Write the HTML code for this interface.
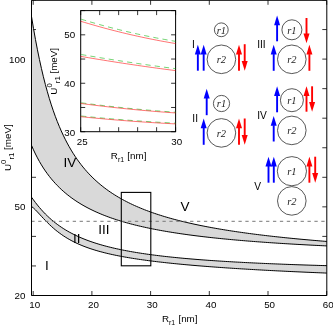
<!DOCTYPE html><html><head><meta charset="utf-8"><style>html,body{margin:0;padding:0;background:#fff}svg{display:block;will-change:transform}text{font-family:"Liberation Sans",sans-serif;fill:#000}.s{font-family:"Liberation Serif",serif;font-style:italic;font-size:10.5px;fill:#222}</style></head><body>
<svg width="333" height="325" viewBox="0 0 333 325">
<rect width="333" height="325" fill="#fff"/>
<path d="M33.20,295.50 v-4.5 M33.20,0.30 v4.5 M91.90,295.50 v-4.5 M91.90,0.30 v4.5 M150.60,295.50 v-4.5 M150.60,0.30 v4.5 M209.30,295.50 v-4.5 M209.30,0.30 v4.5 M268.00,295.50 v-4.5 M268.00,0.30 v4.5 M326.70,295.50 v-4.5 M326.70,0.30 v4.5 M31.50,295.50 h4.5 M326.80,295.50 h-4.5 M31.50,265.95 h4.5 M326.80,265.95 h-4.5 M31.50,236.40 h4.5 M326.80,236.40 h-4.5 M31.50,206.85 h4.5 M326.80,206.85 h-4.5 M31.50,177.30 h4.5 M326.80,177.30 h-4.5 M31.50,147.75 h4.5 M326.80,147.75 h-4.5 M31.50,118.20 h4.5 M326.80,118.20 h-4.5 M31.50,88.65 h4.5 M326.80,88.65 h-4.5 M31.50,59.10 h4.5 M326.80,59.10 h-4.5 M31.50,29.55 h4.5 M326.80,29.55 h-4.5 M31.50,0.00 h4.5 M326.80,0.00 h-4.5" stroke="#000" stroke-width="0.8" fill="none"/>
<path d="M31.50,16.47 L33.48,28.36 L35.46,39.47 L37.45,49.81 L39.43,59.44 L41.41,68.41 L43.39,76.75 L45.37,84.53 L47.36,91.78 L49.34,98.54 L51.32,104.86 L53.30,110.76 L55.28,116.29 L57.26,121.47 L59.25,126.33 L61.23,130.90 L63.21,135.20 L65.19,139.24 L67.17,143.06 L69.16,146.66 L71.14,150.07 L73.12,153.29 L75.10,156.34 L77.08,159.24 L79.07,161.99 L81.05,164.60 L83.03,167.09 L85.01,169.46 L86.99,171.72 L88.97,173.87 L90.96,175.93 L92.94,177.90 L94.92,179.79 L96.90,181.59 L98.88,183.32 L100.87,184.98 L102.85,186.58 L104.83,188.11 L106.81,189.58 L108.79,191.00 L110.78,192.36 L112.76,193.68 L114.74,194.95 L116.72,196.17 L118.70,197.35 L120.68,198.49 L122.67,199.60 L124.65,200.66 L126.63,201.70 L128.61,202.70 L130.59,203.67 L132.58,204.61 L134.56,205.52 L136.54,206.40 L138.52,207.26 L140.50,208.09 L142.49,208.90 L144.47,209.69 L146.45,210.46 L148.43,211.20 L150.41,211.93 L152.39,212.63 L154.38,213.32 L156.36,213.99 L158.34,214.64 L160.32,215.28 L162.30,215.90 L164.29,216.50 L166.27,217.10 L168.25,217.67 L170.23,218.24 L172.21,218.79 L174.20,219.33 L176.18,219.85 L178.16,220.37 L180.14,220.87 L182.12,221.36 L184.10,221.84 L186.09,222.32 L188.07,222.78 L190.05,223.23 L192.03,223.67 L194.01,224.11 L196.00,224.53 L197.98,224.95 L199.96,225.36 L201.94,225.76 L203.92,226.15 L205.91,226.54 L207.89,226.92 L209.87,227.29 L211.85,227.66 L213.83,228.01 L215.81,228.37 L217.80,228.71 L219.78,229.05 L221.76,229.39 L223.74,229.71 L225.72,230.04 L227.71,230.35 L229.69,230.66 L231.67,230.97 L233.65,231.27 L235.63,231.57 L237.62,231.86 L239.60,232.15 L241.58,232.43 L243.56,232.71 L245.54,232.98 L247.52,233.25 L249.51,233.52 L251.49,233.78 L253.47,234.04 L255.45,234.29 L257.43,234.54 L259.42,234.79 L261.40,235.03 L263.38,235.27 L265.36,235.50 L267.34,235.74 L269.33,235.96 L271.31,236.19 L273.29,236.41 L275.27,236.63 L277.25,236.85 L279.23,237.06 L281.22,237.27 L283.20,237.48 L285.18,237.69 L287.16,237.89 L289.14,238.09 L291.13,238.29 L293.11,238.48 L295.09,238.67 L297.07,238.86 L299.05,239.05 L301.04,239.24 L303.02,239.42 L305.00,239.60 L306.98,239.78 L308.96,239.95 L310.94,240.13 L312.93,240.30 L314.91,240.47 L316.89,240.64 L318.87,240.80 L320.85,240.97 L322.84,241.13 L324.82,241.29 L326.80,241.45 L326.80,245.92 L324.82,245.82 L322.84,245.73 L320.85,245.63 L318.87,245.53 L316.89,245.43 L314.91,245.33 L312.93,245.23 L310.94,245.13 L308.96,245.02 L306.98,244.92 L305.00,244.81 L303.02,244.70 L301.04,244.59 L299.05,244.48 L297.07,244.37 L295.09,244.25 L293.11,244.14 L291.13,244.02 L289.14,243.90 L287.16,243.78 L285.18,243.66 L283.20,243.54 L281.22,243.41 L279.23,243.29 L277.25,243.16 L275.27,243.03 L273.29,242.90 L271.31,242.76 L269.33,242.63 L267.34,242.49 L265.36,242.35 L263.38,242.21 L261.40,242.06 L259.42,241.92 L257.43,241.77 L255.45,241.62 L253.47,241.47 L251.49,241.31 L249.51,241.16 L247.52,241.00 L245.54,240.83 L243.56,240.67 L241.58,240.50 L239.60,240.33 L237.62,240.16 L235.63,239.99 L233.65,239.81 L231.67,239.63 L229.69,239.44 L227.71,239.26 L225.72,239.07 L223.74,238.88 L221.76,238.68 L219.78,238.48 L217.80,238.28 L215.81,238.07 L213.83,237.86 L211.85,237.65 L209.87,237.43 L207.89,237.21 L205.91,236.98 L203.92,236.75 L201.94,236.52 L199.96,236.28 L197.98,236.04 L196.00,235.79 L194.01,235.54 L192.03,235.28 L190.05,235.02 L188.07,234.75 L186.09,234.48 L184.10,234.20 L182.12,233.92 L180.14,233.63 L178.16,233.34 L176.18,233.04 L174.20,232.73 L172.21,232.41 L170.23,232.09 L168.25,231.77 L166.27,231.43 L164.29,231.09 L162.30,230.74 L160.32,230.38 L158.34,230.02 L156.36,229.64 L154.38,229.26 L152.39,228.87 L150.41,228.47 L148.43,228.05 L146.45,227.63 L144.47,227.20 L142.49,226.76 L140.50,226.30 L138.52,225.84 L136.54,225.36 L134.56,224.87 L132.58,224.37 L130.59,223.85 L128.61,223.32 L126.63,222.77 L124.65,222.21 L122.67,221.64 L120.68,221.04 L118.70,220.43 L116.72,219.80 L114.74,219.15 L112.76,218.49 L110.78,217.80 L108.79,217.09 L106.81,216.35 L104.83,215.60 L102.85,214.82 L100.87,214.01 L98.88,213.17 L96.90,212.31 L94.92,211.41 L92.94,210.48 L90.96,209.52 L88.97,208.53 L86.99,207.49 L85.01,206.42 L83.03,205.30 L81.05,204.14 L79.07,202.93 L77.08,201.68 L75.10,200.37 L73.12,199.00 L71.14,197.57 L69.16,196.08 L67.17,194.51 L65.19,192.88 L63.21,191.16 L61.23,189.37 L59.25,187.48 L57.26,185.49 L55.28,183.39 L53.30,181.18 L51.32,178.85 L49.34,176.38 L47.36,173.76 L45.37,170.98 L43.39,168.02 L41.41,164.87 L39.43,161.50 L37.45,157.89 L35.46,154.02 L33.48,149.85 L31.50,145.34 Z" fill="#d9d9d9"/>
<path d="M31.50,197.15 L33.48,199.91 L35.46,202.56 L37.45,205.08 L39.43,207.48 L41.41,209.77 L43.39,211.94 L45.37,214.00 L47.36,215.96 L49.34,217.81 L51.32,219.58 L53.30,221.25 L55.28,222.84 L57.26,224.35 L59.25,225.78 L61.23,227.15 L63.21,228.45 L65.19,229.69 L67.17,230.87 L69.16,232.00 L71.14,233.07 L73.12,234.10 L75.10,235.09 L77.08,236.03 L79.07,236.93 L81.05,237.79 L83.03,238.62 L85.01,239.42 L86.99,240.18 L88.97,240.91 L90.96,241.62 L92.94,242.29 L94.92,242.95 L96.90,243.57 L98.88,244.18 L100.87,244.76 L102.85,245.33 L104.83,245.87 L106.81,246.40 L108.79,246.90 L110.78,247.39 L112.76,247.87 L114.74,248.33 L116.72,248.77 L118.70,249.20 L120.68,249.62 L122.67,250.02 L124.65,250.41 L126.63,250.79 L128.61,251.16 L130.59,251.52 L132.58,251.87 L134.56,252.21 L136.54,252.54 L138.52,252.85 L140.50,253.17 L142.49,253.47 L144.47,253.76 L146.45,254.05 L148.43,254.33 L150.41,254.60 L152.39,254.87 L154.38,255.13 L156.36,255.38 L158.34,255.62 L160.32,255.86 L162.30,256.10 L164.29,256.33 L166.27,256.55 L168.25,256.77 L170.23,256.98 L172.21,257.19 L174.20,257.39 L176.18,257.59 L178.16,257.79 L180.14,257.98 L182.12,258.16 L184.10,258.35 L186.09,258.53 L188.07,258.70 L190.05,258.87 L192.03,259.04 L194.01,259.20 L196.00,259.36 L197.98,259.52 L199.96,259.68 L201.94,259.83 L203.92,259.98 L205.91,260.12 L207.89,260.27 L209.87,260.41 L211.85,260.54 L213.83,260.68 L215.81,260.81 L217.80,260.94 L219.78,261.07 L221.76,261.20 L223.74,261.32 L225.72,261.44 L227.71,261.56 L229.69,261.68 L231.67,261.79 L233.65,261.91 L235.63,262.02 L237.62,262.13 L239.60,262.23 L241.58,262.34 L243.56,262.44 L245.54,262.55 L247.52,262.65 L249.51,262.75 L251.49,262.84 L253.47,262.94 L255.45,263.03 L257.43,263.13 L259.42,263.22 L261.40,263.31 L263.38,263.40 L265.36,263.49 L267.34,263.57 L269.33,263.66 L271.31,263.74 L273.29,263.82 L275.27,263.90 L277.25,263.98 L279.23,264.06 L281.22,264.14 L283.20,264.22 L285.18,264.29 L287.16,264.37 L289.14,264.44 L291.13,264.51 L293.11,264.59 L295.09,264.66 L297.07,264.73 L299.05,264.80 L301.04,264.86 L303.02,264.93 L305.00,265.00 L306.98,265.06 L308.96,265.13 L310.94,265.19 L312.93,265.25 L314.91,265.31 L316.89,265.37 L318.87,265.44 L320.85,265.49 L322.84,265.55 L324.82,265.61 L326.80,265.67 L326.80,273.08 L324.82,273.00 L322.84,272.92 L320.85,272.84 L318.87,272.76 L316.89,272.68 L314.91,272.60 L312.93,272.51 L310.94,272.43 L308.96,272.34 L306.98,272.26 L305.00,272.17 L303.02,272.08 L301.04,271.99 L299.05,271.90 L297.07,271.81 L295.09,271.72 L293.11,271.63 L291.13,271.54 L289.14,271.44 L287.16,271.35 L285.18,271.25 L283.20,271.15 L281.22,271.06 L279.23,270.96 L277.25,270.86 L275.27,270.76 L273.29,270.65 L271.31,270.55 L269.33,270.45 L267.34,270.34 L265.36,270.24 L263.38,270.13 L261.40,270.02 L259.42,269.91 L257.43,269.80 L255.45,269.69 L253.47,269.57 L251.49,269.46 L249.51,269.34 L247.52,269.22 L245.54,269.10 L243.56,268.98 L241.58,268.86 L239.60,268.74 L237.62,268.61 L235.63,268.49 L233.65,268.36 L231.67,268.23 L229.69,268.10 L227.71,267.97 L225.72,267.83 L223.74,267.70 L221.76,267.56 L219.78,267.42 L217.80,267.28 L215.81,267.14 L213.83,266.99 L211.85,266.84 L209.87,266.69 L207.89,266.54 L205.91,266.39 L203.92,266.23 L201.94,266.07 L199.96,265.91 L197.98,265.75 L196.00,265.59 L194.01,265.42 L192.03,265.25 L190.05,265.07 L188.07,264.90 L186.09,264.72 L184.10,264.54 L182.12,264.35 L180.14,264.17 L178.16,263.97 L176.18,263.78 L174.20,263.58 L172.21,263.38 L170.23,263.17 L168.25,262.96 L166.27,262.75 L164.29,262.53 L162.30,262.31 L160.32,262.09 L158.34,261.86 L156.36,261.62 L154.38,261.38 L152.39,261.13 L150.41,260.88 L148.43,260.63 L146.45,260.36 L144.47,260.09 L142.49,259.82 L140.50,259.54 L138.52,259.25 L136.54,258.95 L134.56,258.65 L132.58,258.33 L130.59,258.01 L128.61,257.68 L126.63,257.34 L124.65,256.99 L122.67,256.63 L120.68,256.26 L118.70,255.88 L116.72,255.49 L114.74,255.08 L112.76,254.66 L110.78,254.22 L108.79,253.77 L106.81,253.30 L104.83,252.82 L102.85,252.31 L100.87,251.79 L98.88,251.25 L96.90,250.68 L94.92,250.09 L92.94,249.48 L90.96,248.83 L88.97,248.16 L86.99,247.46 L85.01,246.73 L83.03,245.96 L81.05,245.15 L79.07,244.30 L77.08,243.41 L75.10,242.47 L73.12,241.49 L71.14,240.45 L69.16,239.35 L67.17,238.19 L65.19,236.97 L63.21,235.69 L61.23,234.32 L59.25,232.89 L57.26,231.37 L55.28,229.77 L53.30,228.09 L51.32,226.31 L49.34,224.45 L47.36,222.51 L45.37,220.49 L43.39,218.40 L41.41,216.26 L39.43,214.10 L37.45,211.96 L35.46,209.90 L33.48,208.01 L31.50,206.40 Z" fill="#d9d9d9"/>
<path d="M31.50,16.47 L33.48,28.36 L35.46,39.47 L37.45,49.81 L39.43,59.44 L41.41,68.41 L43.39,76.75 L45.37,84.53 L47.36,91.78 L49.34,98.54 L51.32,104.86 L53.30,110.76 L55.28,116.29 L57.26,121.47 L59.25,126.33 L61.23,130.90 L63.21,135.20 L65.19,139.24 L67.17,143.06 L69.16,146.66 L71.14,150.07 L73.12,153.29 L75.10,156.34 L77.08,159.24 L79.07,161.99 L81.05,164.60 L83.03,167.09 L85.01,169.46 L86.99,171.72 L88.97,173.87 L90.96,175.93 L92.94,177.90 L94.92,179.79 L96.90,181.59 L98.88,183.32 L100.87,184.98 L102.85,186.58 L104.83,188.11 L106.81,189.58 L108.79,191.00 L110.78,192.36 L112.76,193.68 L114.74,194.95 L116.72,196.17 L118.70,197.35 L120.68,198.49 L122.67,199.60 L124.65,200.66 L126.63,201.70 L128.61,202.70 L130.59,203.67 L132.58,204.61 L134.56,205.52 L136.54,206.40 L138.52,207.26 L140.50,208.09 L142.49,208.90 L144.47,209.69 L146.45,210.46 L148.43,211.20 L150.41,211.93 L152.39,212.63 L154.38,213.32 L156.36,213.99 L158.34,214.64 L160.32,215.28 L162.30,215.90 L164.29,216.50 L166.27,217.10 L168.25,217.67 L170.23,218.24 L172.21,218.79 L174.20,219.33 L176.18,219.85 L178.16,220.37 L180.14,220.87 L182.12,221.36 L184.10,221.84 L186.09,222.32 L188.07,222.78 L190.05,223.23 L192.03,223.67 L194.01,224.11 L196.00,224.53 L197.98,224.95 L199.96,225.36 L201.94,225.76 L203.92,226.15 L205.91,226.54 L207.89,226.92 L209.87,227.29 L211.85,227.66 L213.83,228.01 L215.81,228.37 L217.80,228.71 L219.78,229.05 L221.76,229.39 L223.74,229.71 L225.72,230.04 L227.71,230.35 L229.69,230.66 L231.67,230.97 L233.65,231.27 L235.63,231.57 L237.62,231.86 L239.60,232.15 L241.58,232.43 L243.56,232.71 L245.54,232.98 L247.52,233.25 L249.51,233.52 L251.49,233.78 L253.47,234.04 L255.45,234.29 L257.43,234.54 L259.42,234.79 L261.40,235.03 L263.38,235.27 L265.36,235.50 L267.34,235.74 L269.33,235.96 L271.31,236.19 L273.29,236.41 L275.27,236.63 L277.25,236.85 L279.23,237.06 L281.22,237.27 L283.20,237.48 L285.18,237.69 L287.16,237.89 L289.14,238.09 L291.13,238.29 L293.11,238.48 L295.09,238.67 L297.07,238.86 L299.05,239.05 L301.04,239.24 L303.02,239.42 L305.00,239.60 L306.98,239.78 L308.96,239.95 L310.94,240.13 L312.93,240.30 L314.91,240.47 L316.89,240.64 L318.87,240.80 L320.85,240.97 L322.84,241.13 L324.82,241.29 L326.80,241.45" fill="none" stroke="#000" stroke-width="1"/>
<path d="M31.50,145.34 L33.48,149.85 L35.46,154.02 L37.45,157.89 L39.43,161.50 L41.41,164.87 L43.39,168.02 L45.37,170.98 L47.36,173.76 L49.34,176.38 L51.32,178.85 L53.30,181.18 L55.28,183.39 L57.26,185.49 L59.25,187.48 L61.23,189.37 L63.21,191.16 L65.19,192.88 L67.17,194.51 L69.16,196.08 L71.14,197.57 L73.12,199.00 L75.10,200.37 L77.08,201.68 L79.07,202.93 L81.05,204.14 L83.03,205.30 L85.01,206.42 L86.99,207.49 L88.97,208.53 L90.96,209.52 L92.94,210.48 L94.92,211.41 L96.90,212.31 L98.88,213.17 L100.87,214.01 L102.85,214.82 L104.83,215.60 L106.81,216.35 L108.79,217.09 L110.78,217.80 L112.76,218.49 L114.74,219.15 L116.72,219.80 L118.70,220.43 L120.68,221.04 L122.67,221.64 L124.65,222.21 L126.63,222.77 L128.61,223.32 L130.59,223.85 L132.58,224.37 L134.56,224.87 L136.54,225.36 L138.52,225.84 L140.50,226.30 L142.49,226.76 L144.47,227.20 L146.45,227.63 L148.43,228.05 L150.41,228.47 L152.39,228.87 L154.38,229.26 L156.36,229.64 L158.34,230.02 L160.32,230.38 L162.30,230.74 L164.29,231.09 L166.27,231.43 L168.25,231.77 L170.23,232.09 L172.21,232.41 L174.20,232.73 L176.18,233.04 L178.16,233.34 L180.14,233.63 L182.12,233.92 L184.10,234.20 L186.09,234.48 L188.07,234.75 L190.05,235.02 L192.03,235.28 L194.01,235.54 L196.00,235.79 L197.98,236.04 L199.96,236.28 L201.94,236.52 L203.92,236.75 L205.91,236.98 L207.89,237.21 L209.87,237.43 L211.85,237.65 L213.83,237.86 L215.81,238.07 L217.80,238.28 L219.78,238.48 L221.76,238.68 L223.74,238.88 L225.72,239.07 L227.71,239.26 L229.69,239.44 L231.67,239.63 L233.65,239.81 L235.63,239.99 L237.62,240.16 L239.60,240.33 L241.58,240.50 L243.56,240.67 L245.54,240.83 L247.52,241.00 L249.51,241.16 L251.49,241.31 L253.47,241.47 L255.45,241.62 L257.43,241.77 L259.42,241.92 L261.40,242.06 L263.38,242.21 L265.36,242.35 L267.34,242.49 L269.33,242.63 L271.31,242.76 L273.29,242.90 L275.27,243.03 L277.25,243.16 L279.23,243.29 L281.22,243.41 L283.20,243.54 L285.18,243.66 L287.16,243.78 L289.14,243.90 L291.13,244.02 L293.11,244.14 L295.09,244.25 L297.07,244.37 L299.05,244.48 L301.04,244.59 L303.02,244.70 L305.00,244.81 L306.98,244.92 L308.96,245.02 L310.94,245.13 L312.93,245.23 L314.91,245.33 L316.89,245.43 L318.87,245.53 L320.85,245.63 L322.84,245.73 L324.82,245.82 L326.80,245.92" fill="none" stroke="#000" stroke-width="1"/>
<path d="M31.50,197.15 L33.48,199.91 L35.46,202.56 L37.45,205.08 L39.43,207.48 L41.41,209.77 L43.39,211.94 L45.37,214.00 L47.36,215.96 L49.34,217.81 L51.32,219.58 L53.30,221.25 L55.28,222.84 L57.26,224.35 L59.25,225.78 L61.23,227.15 L63.21,228.45 L65.19,229.69 L67.17,230.87 L69.16,232.00 L71.14,233.07 L73.12,234.10 L75.10,235.09 L77.08,236.03 L79.07,236.93 L81.05,237.79 L83.03,238.62 L85.01,239.42 L86.99,240.18 L88.97,240.91 L90.96,241.62 L92.94,242.29 L94.92,242.95 L96.90,243.57 L98.88,244.18 L100.87,244.76 L102.85,245.33 L104.83,245.87 L106.81,246.40 L108.79,246.90 L110.78,247.39 L112.76,247.87 L114.74,248.33 L116.72,248.77 L118.70,249.20 L120.68,249.62 L122.67,250.02 L124.65,250.41 L126.63,250.79 L128.61,251.16 L130.59,251.52 L132.58,251.87 L134.56,252.21 L136.54,252.54 L138.52,252.85 L140.50,253.17 L142.49,253.47 L144.47,253.76 L146.45,254.05 L148.43,254.33 L150.41,254.60 L152.39,254.87 L154.38,255.13 L156.36,255.38 L158.34,255.62 L160.32,255.86 L162.30,256.10 L164.29,256.33 L166.27,256.55 L168.25,256.77 L170.23,256.98 L172.21,257.19 L174.20,257.39 L176.18,257.59 L178.16,257.79 L180.14,257.98 L182.12,258.16 L184.10,258.35 L186.09,258.53 L188.07,258.70 L190.05,258.87 L192.03,259.04 L194.01,259.20 L196.00,259.36 L197.98,259.52 L199.96,259.68 L201.94,259.83 L203.92,259.98 L205.91,260.12 L207.89,260.27 L209.87,260.41 L211.85,260.54 L213.83,260.68 L215.81,260.81 L217.80,260.94 L219.78,261.07 L221.76,261.20 L223.74,261.32 L225.72,261.44 L227.71,261.56 L229.69,261.68 L231.67,261.79 L233.65,261.91 L235.63,262.02 L237.62,262.13 L239.60,262.23 L241.58,262.34 L243.56,262.44 L245.54,262.55 L247.52,262.65 L249.51,262.75 L251.49,262.84 L253.47,262.94 L255.45,263.03 L257.43,263.13 L259.42,263.22 L261.40,263.31 L263.38,263.40 L265.36,263.49 L267.34,263.57 L269.33,263.66 L271.31,263.74 L273.29,263.82 L275.27,263.90 L277.25,263.98 L279.23,264.06 L281.22,264.14 L283.20,264.22 L285.18,264.29 L287.16,264.37 L289.14,264.44 L291.13,264.51 L293.11,264.59 L295.09,264.66 L297.07,264.73 L299.05,264.80 L301.04,264.86 L303.02,264.93 L305.00,265.00 L306.98,265.06 L308.96,265.13 L310.94,265.19 L312.93,265.25 L314.91,265.31 L316.89,265.37 L318.87,265.44 L320.85,265.49 L322.84,265.55 L324.82,265.61 L326.80,265.67" fill="none" stroke="#000" stroke-width="1"/>
<path d="M31.50,206.40 L33.48,208.01 L35.46,209.90 L37.45,211.96 L39.43,214.10 L41.41,216.26 L43.39,218.40 L45.37,220.49 L47.36,222.51 L49.34,224.45 L51.32,226.31 L53.30,228.09 L55.28,229.77 L57.26,231.37 L59.25,232.89 L61.23,234.32 L63.21,235.69 L65.19,236.97 L67.17,238.19 L69.16,239.35 L71.14,240.45 L73.12,241.49 L75.10,242.47 L77.08,243.41 L79.07,244.30 L81.05,245.15 L83.03,245.96 L85.01,246.73 L86.99,247.46 L88.97,248.16 L90.96,248.83 L92.94,249.48 L94.92,250.09 L96.90,250.68 L98.88,251.25 L100.87,251.79 L102.85,252.31 L104.83,252.82 L106.81,253.30 L108.79,253.77 L110.78,254.22 L112.76,254.66 L114.74,255.08 L116.72,255.49 L118.70,255.88 L120.68,256.26 L122.67,256.63 L124.65,256.99 L126.63,257.34 L128.61,257.68 L130.59,258.01 L132.58,258.33 L134.56,258.65 L136.54,258.95 L138.52,259.25 L140.50,259.54 L142.49,259.82 L144.47,260.09 L146.45,260.36 L148.43,260.63 L150.41,260.88 L152.39,261.13 L154.38,261.38 L156.36,261.62 L158.34,261.86 L160.32,262.09 L162.30,262.31 L164.29,262.53 L166.27,262.75 L168.25,262.96 L170.23,263.17 L172.21,263.38 L174.20,263.58 L176.18,263.78 L178.16,263.97 L180.14,264.17 L182.12,264.35 L184.10,264.54 L186.09,264.72 L188.07,264.90 L190.05,265.07 L192.03,265.25 L194.01,265.42 L196.00,265.59 L197.98,265.75 L199.96,265.91 L201.94,266.07 L203.92,266.23 L205.91,266.39 L207.89,266.54 L209.87,266.69 L211.85,266.84 L213.83,266.99 L215.81,267.14 L217.80,267.28 L219.78,267.42 L221.76,267.56 L223.74,267.70 L225.72,267.83 L227.71,267.97 L229.69,268.10 L231.67,268.23 L233.65,268.36 L235.63,268.49 L237.62,268.61 L239.60,268.74 L241.58,268.86 L243.56,268.98 L245.54,269.10 L247.52,269.22 L249.51,269.34 L251.49,269.46 L253.47,269.57 L255.45,269.69 L257.43,269.80 L259.42,269.91 L261.40,270.02 L263.38,270.13 L265.36,270.24 L267.34,270.34 L269.33,270.45 L271.31,270.55 L273.29,270.65 L275.27,270.76 L277.25,270.86 L279.23,270.96 L281.22,271.06 L283.20,271.15 L285.18,271.25 L287.16,271.35 L289.14,271.44 L291.13,271.54 L293.11,271.63 L295.09,271.72 L297.07,271.81 L299.05,271.90 L301.04,271.99 L303.02,272.08 L305.00,272.17 L306.98,272.26 L308.96,272.34 L310.94,272.43 L312.93,272.51 L314.91,272.60 L316.89,272.68 L318.87,272.76 L320.85,272.84 L322.84,272.92 L324.82,273.00 L326.80,273.08" fill="none" stroke="#000" stroke-width="1"/>
<line x1="31.3" y1="221.3" x2="326.80" y2="221.3" stroke="#777" stroke-width="1" stroke-dasharray="3.3 3.605"/>
<rect x="121.3" y="192.4" width="29.5" height="73.4" fill="none" stroke="#000" stroke-width="1.1"/>
<path d="M31.50,0.30 V295.50 H326.80 V0.30 Z" fill="none" stroke="#000" stroke-width="1"/>
<text x="34.80" y="308.0" font-size="9.8" text-anchor="middle">10</text>
<text x="93.50" y="308.0" font-size="9.8" text-anchor="middle">20</text>
<text x="152.20" y="308.0" font-size="9.8" text-anchor="middle">30</text>
<text x="210.90" y="308.0" font-size="9.8" text-anchor="middle">40</text>
<text x="269.60" y="308.0" font-size="9.8" text-anchor="middle">50</text>
<text x="328.30" y="308.0" font-size="9.8" text-anchor="middle">60</text>
<text x="25.4" y="298.90" font-size="9.8" text-anchor="end">20</text>
<text x="25.4" y="210.25" font-size="9.8" text-anchor="end">50</text>
<text x="25.4" y="62.50" font-size="9.8" text-anchor="end">100</text>
<text x="179.70" y="321.50" font-size="9.8" text-anchor="middle">R<tspan font-size="6.86" dy="3.2">r1</tspan><tspan dy="-3.2" dx="0.6"> [nm]</tspan></text>
<text transform="translate(11.10,147.70) rotate(-90)" font-size="9.8" text-anchor="middle">U<tspan font-size="7.84" dy="-5.4">0</tspan><tspan font-size="7.84" dy="8.3">r1</tspan><tspan dy="-2.9"> [meV]</tspan></text>
<text x="47.00" y="270.10" font-size="13.5" text-anchor="middle">I</text>
<text x="76.65" y="243.00" font-size="13.5" text-anchor="middle">II</text>
<text x="103.95" y="234.40" font-size="13.5" text-anchor="middle">III</text>
<text x="69.95" y="166.90" font-size="13.5" text-anchor="middle">IV</text>
<text x="185.10" y="211.10" font-size="13.5" text-anchor="middle">V</text>
<rect x="80.70" y="10.60" width="94.90" height="121.10" fill="none" stroke="#000" stroke-width="1"/>
<path d="M80.70,131.70 v-4.5 M80.70,10.60 v4.5 M99.68,131.70 v-4.5 M99.68,10.60 v4.5 M118.66,131.70 v-4.5 M118.66,10.60 v4.5 M137.64,131.70 v-4.5 M137.64,10.60 v4.5 M156.62,131.70 v-4.5 M156.62,10.60 v4.5 M175.60,131.70 v-4.5 M175.60,10.60 v4.5 M80.70,131.70 h4.5 M175.60,131.70 h-4.5 M80.70,107.48 h4.5 M175.60,107.48 h-4.5 M80.70,83.26 h4.5 M175.60,83.26 h-4.5 M80.70,59.04 h4.5 M175.60,59.04 h-4.5 M80.70,34.82 h4.5 M175.60,34.82 h-4.5 M80.70,10.60 h4.5 M175.60,10.60 h-4.5" stroke="#000" stroke-width="0.8" fill="none"/>
<path d="M80.70,19.08 L84.50,20.23 L88.29,21.35 L92.09,22.46 L95.88,23.54 L99.68,24.61 L103.48,25.65 L107.27,26.67 L111.07,27.67 L114.86,28.64 L118.66,29.60 L122.46,30.53 L126.25,31.45 L130.05,32.34 L133.84,33.21 L137.64,34.06 L141.44,34.88 L145.23,35.69 L149.03,36.47 L152.82,37.23 L156.62,37.98 L160.42,38.70 L164.21,39.39 L168.01,40.07 L171.80,40.73 L175.60,41.36" fill="none" stroke="#00b000" stroke-width="0.55" stroke-dasharray="5.2 4.1" stroke-dashoffset="-0.5"/>
<path d="M80.70,21.26 L84.50,22.41 L88.29,23.53 L92.09,24.64 L95.88,25.72 L99.68,26.79 L103.48,27.83 L107.27,28.85 L111.07,29.85 L114.86,30.82 L118.66,31.78 L122.46,32.71 L126.25,33.63 L130.05,34.52 L133.84,35.39 L137.64,36.24 L141.44,37.06 L145.23,37.87 L149.03,38.65 L152.82,39.41 L156.62,40.16 L160.42,40.88 L164.21,41.57 L168.01,42.25 L171.80,42.91 L175.60,43.54" fill="none" stroke="#ff0000" stroke-width="0.55"/>
<path d="M80.70,54.44 L84.50,55.09 L88.29,55.73 L92.09,56.37 L95.88,57.00 L99.68,57.63 L103.48,58.24 L107.27,58.85 L111.07,59.46 L114.86,60.05 L118.66,60.64 L122.46,61.23 L126.25,61.80 L130.05,62.37 L133.84,62.94 L137.64,63.49 L141.44,64.04 L145.23,64.58 L149.03,65.12 L152.82,65.65 L156.62,66.17 L160.42,66.69 L164.21,67.19 L168.01,67.70 L171.80,68.19 L175.60,68.68" fill="none" stroke="#00b000" stroke-width="0.55" stroke-dasharray="5.2 4.1" stroke-dashoffset="-0.5"/>
<path d="M80.70,56.38 L84.50,57.03 L88.29,57.67 L92.09,58.31 L95.88,58.94 L99.68,59.56 L103.48,60.18 L107.27,60.79 L111.07,61.39 L114.86,61.99 L118.66,62.58 L122.46,63.16 L126.25,63.74 L130.05,64.31 L133.84,64.87 L137.64,65.43 L141.44,65.98 L145.23,66.52 L149.03,67.06 L152.82,67.59 L156.62,68.11 L160.42,68.62 L164.21,69.13 L168.01,69.63 L171.80,70.13 L175.60,70.62" fill="none" stroke="#ff0000" stroke-width="0.55"/>
<path d="M80.70,102.73 L84.50,103.23 L88.29,103.72 L92.09,104.20 L95.88,104.67 L99.68,105.13 L103.48,105.58 L107.27,106.01 L111.07,106.44 L114.86,106.86 L118.66,107.27 L122.46,107.67 L126.25,108.06 L130.05,108.44 L133.84,108.81 L137.64,109.17 L141.44,109.52 L145.23,109.86 L149.03,110.19 L152.82,110.51 L156.62,110.82 L160.42,111.12 L164.21,111.41 L168.01,111.70 L171.80,111.97 L175.60,112.23" fill="none" stroke="#00b000" stroke-width="0.55" stroke-dasharray="5.2 4.1" stroke-dashoffset="-0.5"/>
<path d="M80.70,103.46 L84.50,103.96 L88.29,104.45 L92.09,104.93 L95.88,105.39 L99.68,105.85 L103.48,106.30 L107.27,106.74 L111.07,107.17 L114.86,107.59 L118.66,108.00 L122.46,108.40 L126.25,108.79 L130.05,109.17 L133.84,109.54 L137.64,109.90 L141.44,110.25 L145.23,110.59 L149.03,110.92 L152.82,111.24 L156.62,111.55 L160.42,111.85 L164.21,112.14 L168.01,112.42 L171.80,112.69 L175.60,112.95" fill="none" stroke="#ff0000" stroke-width="0.55"/>
<path d="M80.70,115.96 L84.50,116.34 L88.29,116.72 L92.09,117.09 L95.88,117.45 L99.68,117.80 L103.48,118.15 L107.27,118.49 L111.07,118.81 L114.86,119.14 L118.66,119.45 L122.46,119.75 L126.25,120.05 L130.05,120.34 L133.84,120.62 L137.64,120.89 L141.44,121.16 L145.23,121.41 L149.03,121.66 L152.82,121.90 L156.62,122.13 L160.42,122.36 L164.21,122.57 L168.01,122.78 L171.80,122.98 L175.60,123.17" fill="none" stroke="#00b000" stroke-width="0.55" stroke-dasharray="5.2 4.1" stroke-dashoffset="-0.5"/>
<path d="M80.70,116.68 L84.50,117.07 L88.29,117.45 L92.09,117.82 L95.88,118.18 L99.68,118.53 L103.48,118.88 L107.27,119.21 L111.07,119.54 L114.86,119.86 L118.66,120.17 L122.46,120.48 L126.25,120.78 L130.05,121.07 L133.84,121.35 L137.64,121.62 L141.44,121.88 L145.23,122.14 L149.03,122.39 L152.82,122.63 L156.62,122.86 L160.42,123.08 L164.21,123.30 L168.01,123.51 L171.80,123.71 L175.60,123.90" fill="none" stroke="#ff0000" stroke-width="0.55"/>
<text x="75.2" y="135.50" font-size="9.8" text-anchor="end">30</text>
<text x="75.2" y="86.66" font-size="9.8" text-anchor="end">40</text>
<text x="75.2" y="38.22" font-size="9.8" text-anchor="end">50</text>
<text x="82.2" y="145.2" font-size="9.8" text-anchor="middle">25</text>
<text x="176.8" y="145.0" font-size="9.8" text-anchor="middle">30</text>
<text x="128.60" y="158.60" font-size="9.8" text-anchor="middle">R<tspan font-size="6.86" dy="3.2">r1</tspan><tspan dy="-3.2" dx="0.6"> [nm]</tspan></text>
<text transform="translate(57.00,71.30) rotate(-90)" font-size="9.8" text-anchor="middle">U<tspan font-size="7.84" dy="-5.4">0</tspan><tspan font-size="7.84" dy="8.3">r1</tspan><tspan dy="-2.9"> [meV]</tspan></text>
<path d="M197.85,70.70 V54.10" stroke="#0000ff" stroke-width="1.9" fill="none"/><path d="M197.85,44.80 L194.85,54.60 L200.85,54.60 Z" fill="#0000ff"/>
<path d="M203.67,70.70 V54.10" stroke="#0000ff" stroke-width="1.9" fill="none"/><path d="M203.67,44.80 L200.67,54.60 L206.67,54.60 Z" fill="#0000ff"/>
<path d="M239.00,70.70 V54.10" stroke="#ff0000" stroke-width="1.9" fill="none"/><path d="M239.00,44.80 L236.00,54.60 L242.00,54.60 Z" fill="#ff0000"/>
<path d="M244.70,44.20 V61.40" stroke="#ff0000" stroke-width="1.9" fill="none"/><path d="M244.70,70.70 L241.70,60.90 L247.70,60.90 Z" fill="#ff0000"/>
<circle cx="221.30" cy="29.80" r="6.90" fill="none" stroke="#3a3a3a" stroke-width="0.85"/><text class="s" x="221.30" y="33.70" text-anchor="middle">r1</text>
<circle cx="221.40" cy="59.30" r="14.30" fill="none" stroke="#3a3a3a" stroke-width="0.85"/><text class="s" x="221.40" y="63.20" text-anchor="middle">r2</text>
<text x="192.10" y="47.50" font-size="10.2">I</text>
<path d="M206.70,115.20 V98.00" stroke="#0000ff" stroke-width="1.9" fill="none"/><path d="M206.70,88.70 L203.70,98.50 L209.70,98.50 Z" fill="#0000ff"/>
<path d="M203.70,144.80 V127.80" stroke="#0000ff" stroke-width="1.9" fill="none"/><path d="M203.70,118.50 L200.70,128.30 L206.70,128.30 Z" fill="#0000ff"/>
<path d="M239.00,144.80 V127.80" stroke="#ff0000" stroke-width="1.9" fill="none"/><path d="M239.00,118.50 L236.00,128.30 L242.00,128.30 Z" fill="#ff0000"/>
<path d="M244.70,118.50 V135.50" stroke="#ff0000" stroke-width="1.9" fill="none"/><path d="M244.70,144.80 L241.70,135.00 L247.70,135.00 Z" fill="#ff0000"/>
<circle cx="221.50" cy="103.50" r="8.10" fill="none" stroke="#3a3a3a" stroke-width="0.85"/><text class="s" x="221.50" y="107.40" text-anchor="middle">r1</text>
<circle cx="221.40" cy="132.90" r="14.30" fill="none" stroke="#3a3a3a" stroke-width="0.85"/><text class="s" x="221.40" y="136.80" text-anchor="middle">r2</text>
<text x="192.30" y="121.70" font-size="10.2">II</text>
<path d="M277.10,41.30 V24.70" stroke="#0000ff" stroke-width="1.9" fill="none"/><path d="M277.10,15.40 L274.10,25.20 L280.10,25.20 Z" fill="#0000ff"/>
<path d="M306.50,18.00 V34.00" stroke="#ff0000" stroke-width="1.9" fill="none"/><path d="M306.50,43.30 L303.50,33.50 L309.50,33.50 Z" fill="#ff0000"/>
<path d="M273.70,70.80 V54.10" stroke="#0000ff" stroke-width="1.9" fill="none"/><path d="M273.70,44.80 L270.70,54.60 L276.70,54.60 Z" fill="#0000ff"/>
<path d="M309.40,70.80 V54.10" stroke="#ff0000" stroke-width="1.9" fill="none"/><path d="M309.40,44.80 L306.40,54.60 L312.40,54.60 Z" fill="#ff0000"/>
<circle cx="291.90" cy="29.80" r="10.00" fill="none" stroke="#3a3a3a" stroke-width="0.85"/><text class="s" x="291.90" y="33.70" text-anchor="middle">r1</text>
<circle cx="291.80" cy="59.30" r="14.30" fill="none" stroke="#3a3a3a" stroke-width="0.85"/><text class="s" x="291.80" y="63.20" text-anchor="middle">r2</text>
<text x="257.20" y="47.70" font-size="10.2">III</text>
<path d="M277.10,112.30 V95.60" stroke="#0000ff" stroke-width="1.9" fill="none"/><path d="M277.10,86.30 L274.10,96.10 L280.10,96.10 Z" fill="#0000ff"/>
<path d="M306.50,111.70 V95.60" stroke="#ff0000" stroke-width="1.9" fill="none"/><path d="M306.50,86.30 L303.50,96.10 L309.50,96.10 Z" fill="#ff0000"/>
<path d="M312.10,86.30 V102.40" stroke="#ff0000" stroke-width="1.9" fill="none"/><path d="M312.10,111.70 L309.10,101.90 L315.10,101.90 Z" fill="#ff0000"/>
<path d="M273.70,141.50 V125.30" stroke="#0000ff" stroke-width="1.9" fill="none"/><path d="M273.70,116.00 L270.70,125.80 L276.70,125.80 Z" fill="#0000ff"/>
<circle cx="291.90" cy="100.20" r="11.50" fill="none" stroke="#3a3a3a" stroke-width="0.85"/><text class="s" x="291.90" y="104.10" text-anchor="middle">r1</text>
<circle cx="291.80" cy="130.40" r="14.30" fill="none" stroke="#3a3a3a" stroke-width="0.85"/><text class="s" x="291.80" y="134.30" text-anchor="middle">r2</text>
<text x="257.20" y="118.80" font-size="10.2">IV</text>
<path d="M268.50,182.70 V166.00" stroke="#0000ff" stroke-width="1.9" fill="none"/><path d="M268.50,156.70 L265.50,166.50 L271.50,166.50 Z" fill="#0000ff"/>
<path d="M273.80,182.70 V166.00" stroke="#0000ff" stroke-width="1.9" fill="none"/><path d="M273.80,156.70 L270.80,166.50 L276.80,166.50 Z" fill="#0000ff"/>
<path d="M309.40,182.70 V166.00" stroke="#ff0000" stroke-width="1.9" fill="none"/><path d="M309.40,156.70 L306.40,166.50 L312.40,166.50 Z" fill="#ff0000"/>
<path d="M315.20,156.70 V173.40" stroke="#ff0000" stroke-width="1.9" fill="none"/><path d="M315.20,182.70 L312.20,172.90 L318.20,172.90 Z" fill="#ff0000"/>
<circle cx="291.90" cy="171.20" r="14.60" fill="none" stroke="#3a3a3a" stroke-width="0.85"/><text class="s" x="291.90" y="175.10" text-anchor="middle">r1</text>
<circle cx="291.80" cy="200.90" r="14.30" fill="none" stroke="#3a3a3a" stroke-width="0.85"/><text class="s" x="291.80" y="204.80" text-anchor="middle">r2</text>
<text x="254.20" y="189.60" font-size="10.2">V</text>
</svg></body></html>
